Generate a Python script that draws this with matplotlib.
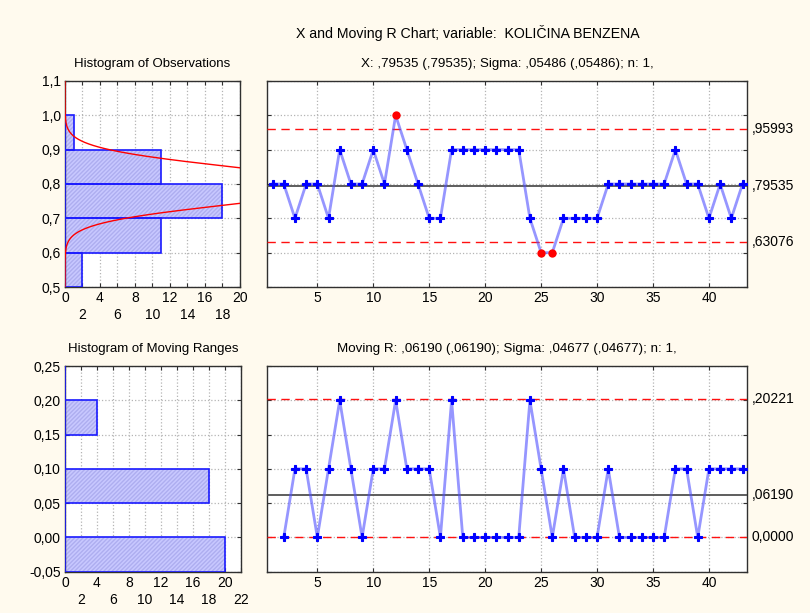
import numpy as np
from matplotlib import pyplot as plt

plt.rcParams['font.family'] = ['Liberation Sans', 'DejaVu Sans']

# observations, sample 1..43
samples = np.arange(1, 44)
xValues = [0.8, 0.8, 0.7, 0.8, 0.8, 0.7, 0.9, 0.8, 0.8, 0.9,
           0.8, 1.0, 0.9, 0.8, 0.7, 0.7, 0.9, 0.9, 0.9, 0.9,
           0.9, 0.9, 0.9, 0.7, 0.6, 0.6, 0.7, 0.7, 0.7, 0.7,
           0.8, 0.8, 0.8, 0.8, 0.8, 0.8, 0.9, 0.8, 0.8, 0.7,
           0.8, 0.7, 0.8]
xCenter, xSigma = 0.79535, 0.05486
xUCL, xLCL = 0.95993, 0.63076

# moving ranges, sample 2..43
mrSamples = np.arange(2, 44)
mrValues = [0.0, 0.1, 0.1, 0.0, 0.1, 0.2, 0.1, 0.0, 0.1, 0.1,
            0.2, 0.1, 0.1, 0.1, 0.0, 0.2, 0.0, 0.0, 0.0, 0.0,
            0.0, 0.0, 0.2, 0.1, 0.0, 0.1, 0.0, 0.0, 0.0, 0.1,
            0.0, 0.0, 0.0, 0.0, 0.0, 0.1, 0.1, 0.0, 0.1, 0.1,
            0.1, 0.1]
mrCenter = 0.06190
mrUCL, mrLCL = 0.20221, 0.0

# histograms
obsBinStarts = [0.5, 0.6, 0.7, 0.8, 0.9]
obsCounts = [2, 11, 18, 11, 1]
mrBinStarts = [-0.05, 0.0, 0.05, 0.10, 0.15, 0.20]
mrCounts = [20, 0, 18, 0, 4, 0]

bg = '#fffaee'
barFace = '#c8c8ff'
barHatch = '#aeaef0'
barEdge = '#1a1aff'
gridKw = dict(color='#b4b4b4', linestyle=':', linewidth=0.9)


def comma(v, fmt):
    return (fmt % v).replace('.', ',')


def style_axes(ax):
    ax.set_facecolor('white')
    for s in ax.spines.values():
        s.set_color('#303030')
        s.set_linewidth(1.0)
    ax.tick_params(direction='in', length=3, color='#303030', labelsize=10,
                   top=True, right=True, pad=3)
    ax.grid(True, **gridKw)
    ax.set_axisbelow(True)


def draw_hist(ax, starts, counts, width):
    ax.barh(starts, counts, height=width, align='edge', color=barFace,
            edgecolor=barHatch, hatch='////////', linewidth=0, zorder=2)
    ax.barh(starts, counts, height=width, align='edge', fill=False,
            edgecolor=barEdge, linewidth=1.2, zorder=3)


def stagger_ticks(ax, top):
    ticks = np.arange(0, top + 1, 2)
    ax.set_xticks(ticks)
    ax.set_xticklabels([str(t) if i % 2 == 0 else '\n' + str(t)
                        for i, t in enumerate(ticks)], linespacing=1.25)


def draw_chart(ax, xs, ys, center, ucl, lcl, labels):
    ax.axhline(center, color='#505050', linewidth=1.3, zorder=3)
    ax.axhline(ucl, color='#ff1010', linewidth=1.0, dashes=(6, 4), zorder=3)
    ax.axhline(lcl, color='#ff1010', linewidth=1.0, dashes=(6, 4), zorder=3)
    ys = np.array(ys)
    ax.plot(xs, ys, color='#5050ff', alpha=0.6, linewidth=2.0, zorder=4)
    out = (ys > ucl) | (ys < lcl)
    ax.plot(xs[~out], ys[~out], 'P', color='#0000ff', markersize=5.8,
            markeredgewidth=0.8, markeredgecolor='#0000ff',
            linestyle='none', zorder=5)
    ax.plot(xs[out], ys[out], 'o', color='#ff0000', markersize=6,
            markeredgewidth=0, linestyle='none', zorder=5)
    ax.set_xlim(0.5, 43.4)
    ax.set_xticks([5, 10, 15, 20, 25, 30, 35, 40])
    ax.tick_params(labelleft=False)
    for v, lab in zip([ucl, center, lcl], labels):
        ax.text(1.01, v, lab, transform=ax.get_yaxis_transform(),
                va='center', ha='left', fontsize=10)


fig = plt.figure(figsize=(8.1, 6.13), dpi=100, facecolor=bg)

axH1 = fig.add_axes([0.0802, 0.5318, 0.2160, 0.3361])
axX = fig.add_axes([0.3296, 0.5318, 0.5926, 0.3361])
axH2 = fig.add_axes([0.0802, 0.0674, 0.2173, 0.3355])
axR = fig.add_axes([0.3296, 0.0674, 0.5926, 0.3355])
for ax in (axH1, axX, axH2, axR):
    style_axes(ax)

# histogram of observations with normal curve
draw_hist(axH1, obsBinStarts, obsCounts, 0.1)
yy = np.linspace(0.5, 1.1, 400)
scale = len(xValues) * 0.1 / (xSigma * np.sqrt(2 * np.pi))
axH1.plot(scale * np.exp(-(yy - xCenter) ** 2 / (2 * xSigma ** 2)), yy,
          color='#ff0000', linewidth=1.0, zorder=4)
axH1.set_xlim(0, 20)
axH1.set_ylim(0.5, 1.1)
stagger_ticks(axH1, 20)
yt = np.round(np.arange(0.5, 1.11, 0.1), 2)
axH1.set_yticks(yt)
axH1.set_yticklabels([comma(v, '%.1f') for v in yt])
axH1.set_title('Histogram of Observations', fontsize=9.5, pad=10)

# X chart
draw_chart(axX, samples, xValues, xCenter, xUCL, xLCL,
           [',95993', ',79535', ',63076'])
axX.set_ylim(0.5, 1.1)
axX.set_yticks(yt)
axX.set_title('X: ,79535 (,79535); Sigma: ,05486 (,05486); n: 1,',
              fontsize=9.6, pad=10)

# histogram of moving ranges
draw_hist(axH2, mrBinStarts, mrCounts, 0.05)
axH2.set_xlim(0, 22)
axH2.set_ylim(-0.05, 0.25)
stagger_ticks(axH2, 22)
yt2 = np.round(np.arange(-0.05, 0.251, 0.05), 2)
axH2.set_yticks(yt2)
axH2.set_yticklabels([comma(v, '%.2f') for v in yt2])
axH2.set_title('Histogram of Moving Ranges', fontsize=9.5, pad=10)

# moving R chart
draw_chart(axR, mrSamples, mrValues, mrCenter, mrUCL, mrLCL,
           [',20221', ',06190', '0,0000'])
axR.set_ylim(-0.05, 0.25)
axR.set_yticks(yt2)
axR.set_title('Moving R: ,06190 (,06190); Sigma: ,04677 (,04677); n: 1,',
              fontsize=9.6, pad=10)

fig.text(0.578, 0.946, 'X and Moving R Chart; variable:  KOLIČINA BENZENA',
         ha='center', va='center', fontsize=10.2)

fig.savefig('out.png', dpi=100, facecolor=bg)
